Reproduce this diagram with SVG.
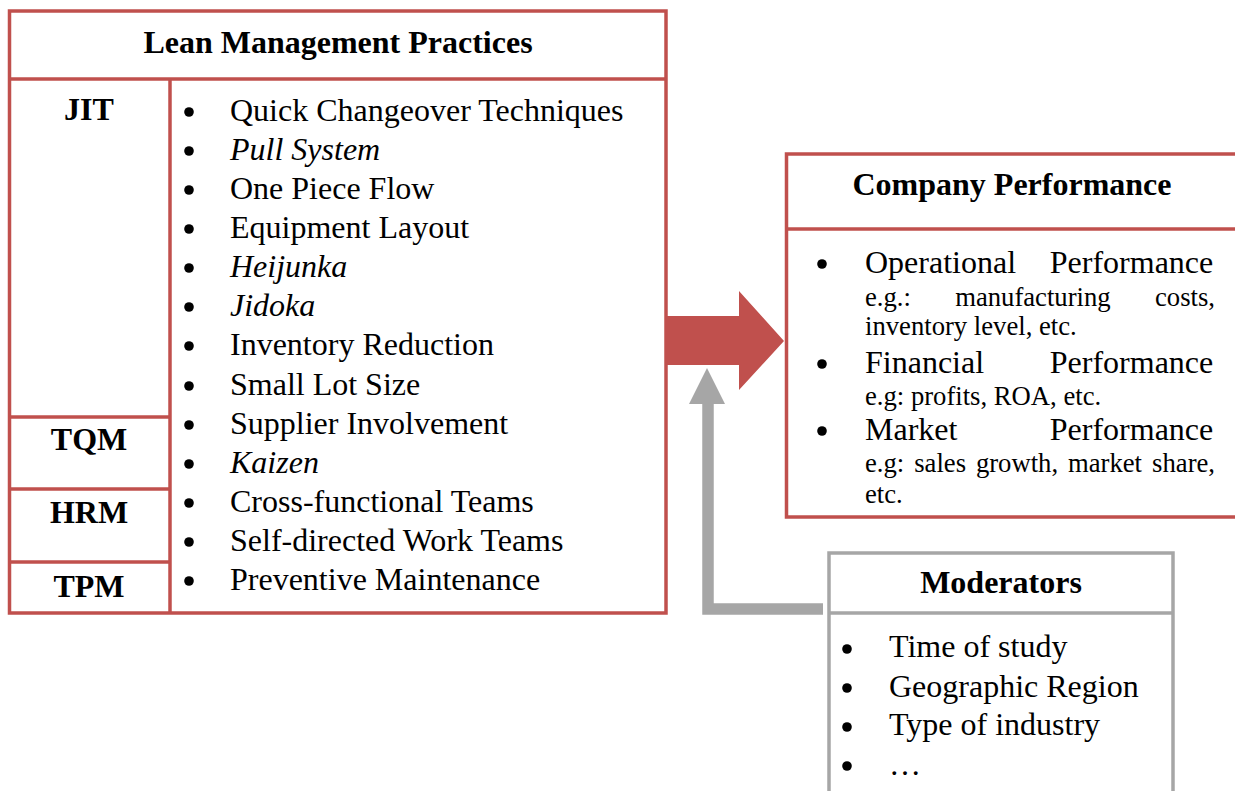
<svg xmlns="http://www.w3.org/2000/svg" width="1235" height="791" viewBox="0 0 1235 791">
  <defs>
    <style>
      .red { fill: none; stroke: #C0504D; stroke-width: 3.5; }
      .grey { fill: none; stroke: #A6A6A6; stroke-width: 3.5; }
      .title { font-family: "Liberation Serif", "Times New Roman", serif; font-size: 32px; font-weight: bold; fill: #000; }
      .item { font-family: "Liberation Serif", "Times New Roman", serif; font-size: 32px; fill: #000; }
      .small { font-family: "Liberation Serif", "Times New Roman", serif; font-size: 26.67px; fill: #000; }
      .it { font-style: italic; }
      .dot { fill: #000; }
    </style>
  </defs>
  <rect width="1235" height="791" fill="#fff"/>

  <!-- connectors -->
  <g id="connectors">
    <!-- practices to performance -->
    <path d="M667 316 H739 V291 L784 341 L739 390 V365 H667 Z" fill="#C0504D"/>
    <!-- moderators to the main relation -->
    <path d="M823 609 H708 V400" fill="none" stroke="#A6A6A6" stroke-width="11.5"/>
    <path d="M689 404 L707 368 L725 404 Z" fill="#A6A6A6"/>
  </g>

  <!-- Lean management practices -->
  <g id="lean-practices">
    <rect class="red" x="9.5" y="11" width="656.5" height="602"/>
    <line class="red" x1="9.5" y1="79" x2="666" y2="79"/>
    <line class="red" x1="170" y1="79" x2="170" y2="613"/>
    <line class="red" x1="9.5" y1="417" x2="170" y2="417"/>
    <line class="red" x1="9.5" y1="489" x2="170" y2="489"/>
    <line class="red" x1="9.5" y1="562" x2="170" y2="562"/>
    <text class="title" x="338" y="53" text-anchor="middle">Lean Management Practices</text>
    <text class="title" x="89" y="120" text-anchor="middle">JIT</text>
    <text class="title" x="89" y="450" text-anchor="middle">TQM</text>
    <text class="title" x="89" y="523" text-anchor="middle">HRM</text>
    <text class="title" x="89" y="597" text-anchor="middle">TPM</text>
    <g class="dot">
      <circle cx="189" cy="112" r="4.8"/>
      <circle cx="189" cy="151" r="4.8"/>
      <circle cx="189" cy="190" r="4.8"/>
      <circle cx="189" cy="229" r="4.8"/>
      <circle cx="189" cy="268" r="4.8"/>
      <circle cx="189" cy="307" r="4.8"/>
      <circle cx="189" cy="346" r="4.8"/>
      <circle cx="189" cy="386" r="4.8"/>
      <circle cx="189" cy="425" r="4.8"/>
      <circle cx="189" cy="464" r="4.8"/>
      <circle cx="189" cy="503" r="4.8"/>
      <circle cx="189" cy="542" r="4.8"/>
      <circle cx="189" cy="581" r="4.8"/>
    </g>
    <text class="item" x="230" y="121">Quick Changeover Techniques</text>
    <text class="item it" x="230" y="160">Pull System</text>
    <text class="item" x="230" y="199">One Piece Flow</text>
    <text class="item" x="230" y="238">Equipment Layout</text>
    <text class="item it" x="230" y="277">Heijunka</text>
    <text class="item it" x="230" y="316">Jidoka</text>
    <text class="item" x="230" y="355">Inventory Reduction</text>
    <text class="item" x="230" y="395">Small Lot Size</text>
    <text class="item" x="230" y="434">Supplier Involvement</text>
    <text class="item it" x="230" y="473">Kaizen</text>
    <text class="item" x="230" y="512">Cross-functional Teams</text>
    <text class="item" x="230" y="551">Self-directed Work Teams</text>
    <text class="item" x="230" y="590">Preventive Maintenance</text>
  </g>

  <!-- Company performance -->
  <g id="company-performance">
    <rect class="red" x="786.5" y="154" width="460" height="363"/>
    <line class="red" x1="786.5" y1="229" x2="1240" y2="229"/>
    <text class="title" x="1012" y="195" text-anchor="middle">Company Performance</text>
    <g class="dot">
      <circle cx="822" cy="264" r="4.8"/>
      <circle cx="822" cy="364" r="4.8"/>
      <circle cx="822" cy="431" r="4.8"/>
    </g>
    <text class="item" y="273"><tspan x="865">Operational</tspan><tspan x="1049.8">Performance</tspan></text>
    <text class="small" y="306"><tspan x="865">e.g.:</tspan><tspan x="955.2">manufacturing</tspan><tspan x="1155">costs,</tspan></text>
    <text class="small" x="865" y="335">inventory level, etc.</text>
    <text class="item" y="373"><tspan x="865">Financial</tspan><tspan x="1049.8">Performance</tspan></text>
    <text class="small" x="865" y="405">e.g: profits, ROA, etc.</text>
    <text class="item" y="440"><tspan x="865">Market</tspan><tspan x="1049.8">Performance</tspan></text>
    <text class="small" y="472"><tspan x="865">e.g:</tspan><tspan x="914.2">sales</tspan><tspan x="975.9">growth,</tspan><tspan x="1068">market</tspan><tspan x="1152.1">share,</tspan></text>
    <text class="small" x="865" y="503">etc.</text>
  </g>

  <!-- Moderators -->
  <g id="moderators">
    <rect class="grey" x="829" y="553" width="344" height="260"/>
    <line class="grey" x1="829" y1="613" x2="1173" y2="613"/>
    <text class="title" x="1001" y="593" text-anchor="middle">Moderators</text>
    <g class="dot">
      <circle cx="847" cy="649" r="4.8"/>
      <circle cx="847" cy="688" r="4.8"/>
      <circle cx="847" cy="727" r="4.8"/>
      <circle cx="847" cy="766" r="4.8"/>
    </g>
    <text class="item" x="889" y="657">Time of study</text>
    <text class="item" x="889" y="697">Geographic Region</text>
    <text class="item" x="889" y="735">Type of industry</text>
    <text class="item" x="889" y="775">…</text>
  </g>
</svg>
